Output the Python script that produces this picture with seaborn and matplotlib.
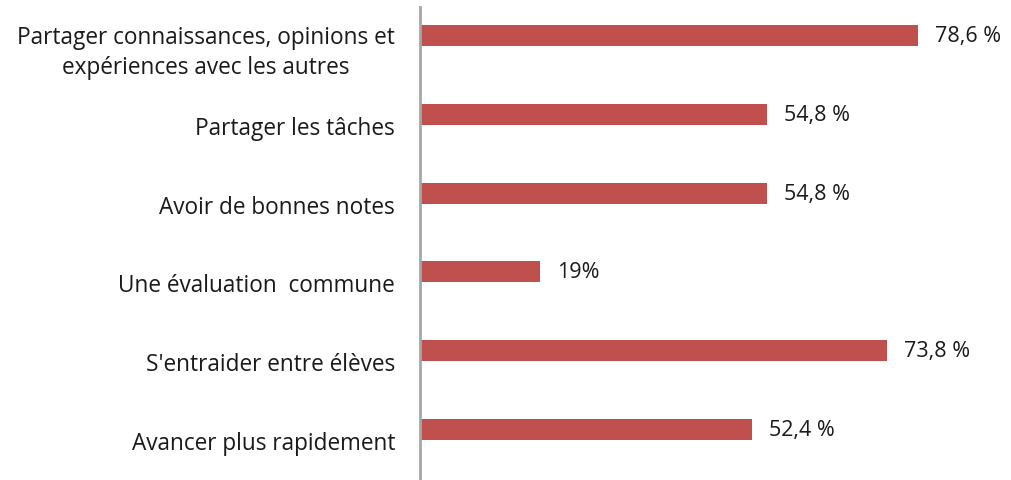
import matplotlib
matplotlib.use("Agg")
import matplotlib.pyplot as plt
import seaborn as sns
import pandas as pd

categories = [
    "Partager connaissances, opinions et\nexpériences avec les autres",
    "Partager les tâches",
    "Avoir de bonnes notes",
    "Une évaluation  commune",
    "S'entraider entre élèves",
    "Avancer plus rapidement",
]
values = [78.6, 54.8, 54.8, 19.0, 73.8, 52.4]
value_labels = ["78,6 %", "54,8 %", "54,8 %", "19%", "73,8 %", "52,4 %"]

sns.set_theme(style="white")
plt.rcParams['font.family'] = ['Open Sans', 'DejaVu Sans']

# Excel-like clustered layout: a real series plus an empty companion series
df = pd.DataFrame({
    "cat": categories * 2,
    "val": values + [0.0] * len(values),
    "series": ["A"] * len(values) + ["B"] * len(values),
})

fig = plt.figure(figsize=(10.11, 4.81), dpi=100)
ax = fig.add_axes([420 / 1011, 1 / 481, 1 - 420 / 1011, 472 / 481])

sns.barplot(data=df, y="cat", x="val", hue="series", hue_order=["A", "B"],
            order=categories, orient="h", palette=["#C0504D", "#C0504D"],
            saturation=1, width=0.534, dodge=True, legend=False,
            errorbar=None, linewidth=0, ax=ax)

ax.set_xlim(0, 93.3)
ax.set_xlabel("")
ax.set_ylabel("")
ax.set_xticks([])
for s in ["top", "right", "bottom"]:
    ax.spines[s].set_visible(False)
ax.spines["left"].set_color("#a6a6a6")
ax.spines["left"].set_linewidth(2)

ax.tick_params(axis="y", length=0, pad=18, labelsize=16.3, labelcolor="#1a1a1a")
for t in ax.get_yticklabels():
    t.set_multialignment("center")
    t.set_linespacing(1.3)

ax.bar_label(ax.containers[0], labels=value_labels, padding=12,
             fontsize=15.5, color="#1a1a1a")

fig.savefig("out.png", dpi=100)
